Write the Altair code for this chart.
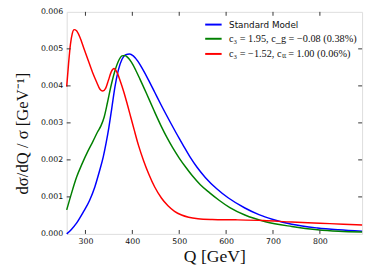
import altair as alt
import pandas as pd

SM = "Standard Model"
C1 = "c₃ = 1.95, c_g = −0.08 (0.38%)"
C2 = "c₃ = −1.52, cₜₜ = 1.00 (0.06%)"
series_names = [SM, C1, C2]
series_colors = ["#0000ff", "#008000", "#ff0000"]

q_sm = [260, 270, 281, 295, 309, 320, 330, 338, 344, 350, 356, 363, 370, 378, 386, 394, 402, 412,
        422, 434, 448, 462, 483, 500, 510, 524, 538, 556, 580, 605, 640, 670, 700, 740, 795, 840, 890]
v_sm = [0.0, 0.00012, 0.00029, 0.00058, 0.00091, 0.00127, 0.0017, 0.00208, 0.00245, 0.00288,
        0.00338, 0.00398, 0.00442, 0.00472, 0.00484, 0.00486, 0.00481, 0.00466,
        0.00445, 0.00417, 0.00382, 0.00347, 0.00297, 0.00258, 0.00236, 0.00206, 0.0018,
        0.00152, 0.00122, 0.00097, 0.0007, 0.00052, 0.00039, 0.00026, 0.00016, 0.00011, 0.00007]

q_c1 = [260, 268, 281, 293, 305, 316, 326, 333, 340, 347, 354, 362, 370, 378, 384, 390, 398, 407,
        416, 430, 446, 462, 474, 486, 500, 514, 528, 545, 565, 585, 608, 640, 684, 740, 795, 840, 890]
v_c1 = [0.00065, 0.001, 0.00153, 0.0019, 0.00223, 0.0025, 0.00276, 0.00292, 0.00316, 0.00355,
        0.00397, 0.00437, 0.00466, 0.00481, 0.00482, 0.00477, 0.00464, 0.00443,
        0.00419, 0.0038, 0.00334, 0.0029, 0.0026, 0.00233, 0.00205, 0.0018, 0.00157, 0.00133,
        0.00111, 0.00091, 0.00071, 0.00051, 0.00033, 0.0002, 0.00011, 0.00007, 0.00005]

q_c2 = [260, 264, 268, 272, 276, 281, 288, 296, 305, 315, 324, 331, 337, 343, 349, 355, 361, 367,
        374, 382, 390, 397, 404, 413, 424, 435, 448, 462, 476, 490, 505, 520, 540, 570, 620, 680,
        740, 800, 850, 890]
v_c2 = [0.00398, 0.0046, 0.00512, 0.00542, 0.00552, 0.00549, 0.00532, 0.00504, 0.00472, 0.00437,
        0.0041, 0.00391, 0.00386, 0.00393, 0.00415, 0.00438, 0.00447, 0.00437,
        0.00414, 0.00383, 0.00347, 0.00314, 0.00281, 0.0024, 0.00198, 0.00162, 0.00126, 0.00097,
        0.00076, 0.00061, 0.00051, 0.00045, 0.00041, 0.00039, 0.00038, 0.00036,
        0.00032, 0.00029, 0.00026, 0.00024]

x_ticks = [300, 400, 500, 600, 700, 800]
y_labels = [0, 0.001, 0.002, 0.003, 0.004, 0.005, 0.006]
y_ticks = [0.001, 0.002, 0.003, 0.004, 0.005]

rows = []
for name, qs, vs in [(SM, q_sm, v_sm), (C1, q_c1, v_c1), (C2, q_c2, v_c2)]:
    for q, v in zip(qs, vs):
        rows.append({"Q": q, "val": v, "series": name})
df = pd.DataFrame(rows)

W, H = 302, 227
FRAME = "#333333"

xscale = alt.Scale(domain=[260, 890], nice=False, zero=False)
yscale = alt.Scale(domain=[0, 0.006], nice=False)

xaxis = alt.Axis(values=x_ticks, format="d", ticks=False, domain=False, grid=False,
                 labelFont="DejaVu Sans", labelFontSize=8, labelColor="#111",
                 labelPadding=4, labelOverlap=False,
                 title="Q  [GeV]", titleFont="Liberation Serif", titleFontSize=18,
                 titleFontWeight="normal", titleColor="#111",
                 titleX=151, titleY=23, titleBaseline="middle")
yaxis = alt.Axis(values=y_labels, format=".3f",
                 ticks=False, domain=False, grid=False,
                 labelFont="DejaVu Sans", labelFontSize=8, labelColor="#111",
                 labelPadding=4, labelOverlap=False,
                 title="dσ/dQ / σ  [GeV⁻¹]", titleFont="Liberation Serif",
                 titleFontSize=17, titleFontWeight="normal", titleColor="#111",
                 titleX=-45, titleY=124, titleBaseline="middle", titleAngle=270)

legend_font = "datum.value === 'Standard Model' ? 'DejaVu Sans' : 'Liberation Serif'"
legend_size = "datum.value === 'Standard Model' ? 9 : 10.5"

lines = alt.Chart(df).mark_line(strokeWidth=1.5, interpolate="monotone").encode(
    x=alt.X("Q:Q", scale=xscale, axis=xaxis),
    y=alt.Y("val:Q", scale=yscale, axis=yaxis),
    color=alt.Color("series:N",
                    scale=alt.Scale(domain=series_names, range=series_colors),
                    legend=alt.Legend(title=None, orient="none", legendX=143, legendY=6,
                                      padding=0, symbolType="M-1.4,0H1.4", symbolStrokeWidth=2,
                                      symbolSize=144, rowPadding=2.5, labelOffset=9,
                                      labelFontSize=alt.ExprRef(expr=legend_size),
                                      labelFont=alt.ExprRef(expr=legend_font),
                                      labelColor="#111", labelLimit=200)),
    order=alt.Order("Q:Q"),
)

xt = pd.DataFrame({"t": x_ticks})
yt = pd.DataFrame({"t": y_ticks})

xb = alt.Chart(xt).mark_rule(color=FRAME, strokeWidth=1).encode(
    x=alt.X("t:Q", scale=xscale, axis=xaxis), y=alt.value(H), y2=alt.value(H - 4))
xtop = alt.Chart(xt).mark_rule(color=FRAME, strokeWidth=1).encode(
    x=alt.X("t:Q", scale=xscale, axis=xaxis), y=alt.value(0), y2=alt.value(4))
yl = alt.Chart(yt).mark_rule(color=FRAME, strokeWidth=1).encode(
    y=alt.Y("t:Q", scale=yscale, axis=yaxis), x=alt.value(0), x2=alt.value(4))
yr = alt.Chart(yt).mark_rule(color=FRAME, strokeWidth=1).encode(
    y=alt.Y("t:Q", scale=yscale, axis=yaxis), x=alt.value(W), x2=alt.value(W - 4))

chart = alt.layer(lines, xb, xtop, yl, yr).properties(
    width=W, height=H,
    autosize=alt.AutoSizeParams(type="none"),
    padding={"left": 60, "top": 1, "right": 4, "bottom": 36},
).configure_view(stroke=FRAME, strokeWidth=1.2).configure(background="white")

chart.save("out.html", embed_options={"renderer": "svg", "actions": False})
